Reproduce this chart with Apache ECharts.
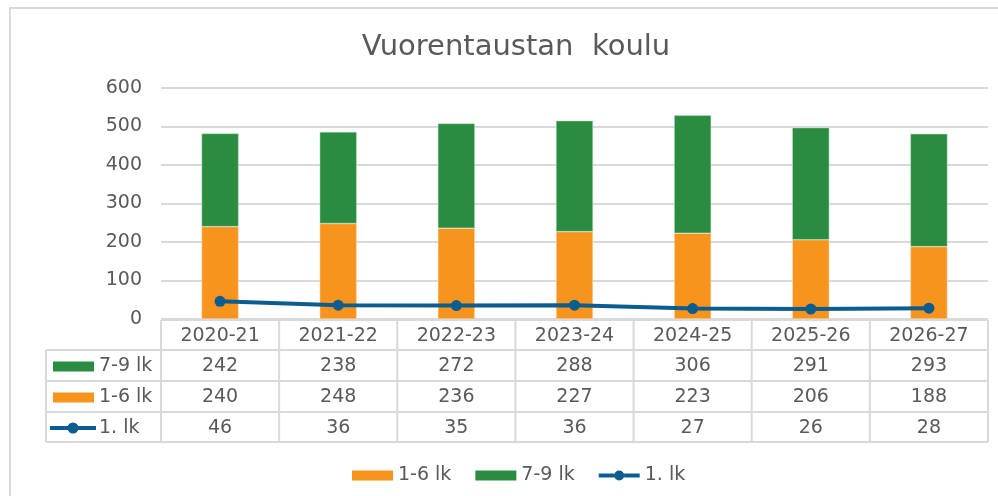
<!DOCTYPE html>
<html>
<head>
<meta charset="utf-8">
<script src="https://cdn.jsdelivr.net/npm/echarts@6/dist/echarts.min.js"></script>
<style>
  html, body { margin: 0; padding: 0; background: #fff; }
  #chart { width: 998px; height: 496px; }
</style>
</head>
<body>
<div id="chart"></div>
<script>
// data
const years = ['2020-21', '2021-22', '2022-23', '2023-24', '2024-25', '2025-26', '2026-27'];
const grade79 = [242, 238, 272, 288, 306, 291, 293];
const grade16 = [240, 248, 236, 227, 223, 206, 188];
const grade1 = [46, 36, 35, 36, 27, 26, 28];
const yTicks = [0, 100, 200, 300, 400, 500, 600];

const FONT = 'DejaVu Sans';
const TXT = '#595959';
const LINE = '#d9d9d9';
const GREEN = '#2a8c40';
const ORANGE = '#f7941e';
const BLUE = '#0b5c8f';

// line-with-marker key, same look as in the table
const LINE_KEY = 'path://M0,3H15.6V7H0Z M25.4,3H41V7H25.4Z M15.5,5A5,5 0 1 1 25.5,5A5,5 0 1 1 15.5,5Z';

const chart = echarts.init(document.getElementById('chart'));

chart.setOption({
    animation: false,
    textStyle: { fontFamily: FONT },
    title: {
        text: 'Vuorentaustan  koulu',
        left: 511,
        top: 28,
        textAlign: 'center',
        textStyle: { fontFamily: FONT, fontSize: 29, fontWeight: 'normal', color: TXT },
    },
    legend: {
        left: 347,
        top: 461,
        itemWidth: 41,
        itemHeight: 10,
        itemGap: 24,
        itemStyle: { borderWidth: 0 },
        textStyle: { fontFamily: FONT, fontSize: 19, color: TXT },
        data: [
            { name: '1-6 lk', icon: 'rect' },
            { name: '7-9 lk', icon: 'rect' },
            { name: '1. lk', icon: LINE_KEY, itemStyle: { color: BLUE } },
        ],
    },
    grid: { left: 161, right: 10, top: 88, bottom: 177 },
    xAxis: {
        type: 'category',
        data: years,
        axisLine: { show: false },
        axisTick: { show: false },
        axisLabel: { show: false },
    },
    yAxis: {
        type: 'value',
        min: yTicks[0],
        max: yTicks[yTicks.length - 1],
        interval: 100,
        axisLabel: { fontFamily: FONT, fontSize: 19, color: TXT, margin: 19 },
        splitLine: { lineStyle: { color: LINE, width: 2 } },
    },
    series: [
        {
            name: '1-6 lk',
            type: 'bar',
            stack: 'total',
            barWidth: 37,
            itemStyle: { color: ORANGE, borderColor: '#fbe3c4', borderWidth: 0.5 },
            data: grade16,
        },
        {
            name: '7-9 lk',
            type: 'bar',
            stack: 'total',
            barWidth: 37,
            itemStyle: { color: GREEN, borderColor: '#bfe0c6', borderWidth: 0.5 },
            data: grade79,
        },
        {
            name: '1. lk',
            type: 'line',
            symbol: 'circle',
            symbolSize: 11,
            lineStyle: { color: BLUE, width: 4 },
            itemStyle: { color: BLUE },
            data: grade1,
        },
    ],
});

// data table under the chart
function buildTable() {
    const c0 = chart.convertToPixel({ xAxisIndex: 0 }, years[0]);
    const c1 = chart.convertToPixel({ xAxisIndex: 0 }, years[1]);
    const band = c1 - c0;
    const left = c0 - band / 2;
    const right = left + band * years.length;
    const rows = [320, 350, 381, 412, 442];
    const legLeft = 46;
    const els = [];

    // outer chart border
    els.push({ type: 'rect', shape: { x: 10, y: 8, width: 1000, height: 500 },
        style: { fill: 'none', stroke: LINE, lineWidth: 2 }, silent: true });

    const hline = (x1, x2, y) => els.push({ type: 'line', shape: { x1, y1: y, x2, y2: y },
        style: { stroke: LINE, lineWidth: 2 }, silent: true });
    const vline = (x, y1, y2) => els.push({ type: 'line', shape: { x1: x, y1, x2: x, y2 },
        style: { stroke: LINE, lineWidth: 2 }, silent: true });
    const cellText = (text, x, y, align) => els.push({ type: 'text', x, y, silent: true,
        style: { text, fill: TXT, font: '19px "' + FONT + '"', align: align || 'center', verticalAlign: 'middle' } });

    hline(left, right, rows[0]);
    for (let i = 1; i < rows.length; i++) hline(legLeft, right, rows[i]);
    for (let i = 0; i <= years.length; i++) vline(left + band * i, rows[0], rows[4]);
    vline(legLeft, rows[1], rows[4]);

    const mid = (r) => (rows[r] + rows[r + 1]) / 2 + 1;
    const tableRows = [grade79, grade16, grade1];
    years.forEach((y, i) => {
        const cx = chart.convertToPixel({ xAxisIndex: 0 }, y);
        cellText(y, cx, mid(0));
        tableRows.forEach((vals, r) => cellText(String(vals[i]), cx, mid(r + 1)));
    });

    // row keys
    els.push({ type: 'rect', shape: { x: 53, y: mid(1) - 5, width: 41, height: 10 }, style: { fill: GREEN }, silent: true });
    cellText('7-9 lk', 99, mid(1), 'left');
    els.push({ type: 'rect', shape: { x: 53, y: mid(2) - 5, width: 41, height: 10 }, style: { fill: ORANGE }, silent: true });
    cellText('1-6 lk', 99, mid(2), 'left');
    els.push({ type: 'line', shape: { x1: 50, y1: mid(3), x2: 96, y2: mid(3) }, style: { stroke: BLUE, lineWidth: 4 }, silent: true });
    els.push({ type: 'circle', shape: { cx: 73, cy: mid(3), r: 5.5 }, style: { fill: BLUE }, silent: true });
    cellText('1. lk', 99, mid(3), 'left');

    chart.setOption({ graphic: { elements: els } });
}
buildTable();
</script>
</body>
</html>
